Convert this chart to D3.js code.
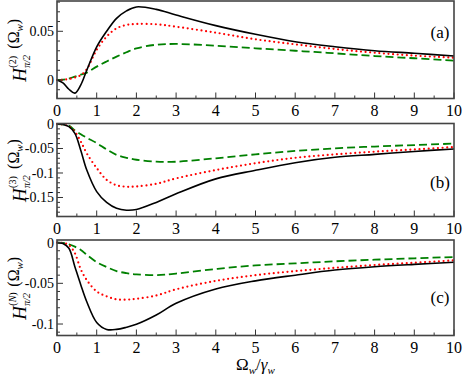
<!DOCTYPE html>
<html>
<head>
<meta charset="utf-8">
<script src="https://cdn.jsdelivr.net/npm/d3@7"></script>
<style>
  body { margin: 0; background: white; }
  svg { display: block; }
</style>
</head>
<body>
<div id="chart"></div>
<script>
// shared x grid (Omega_w / gamma_w)
const xValues = [0, 0.15, 0.3, 0.45, 0.6, 0.75, 1, 1.25, 1.5, 1.75, 2, 2.5, 3, 4, 5, 6, 7, 8, 9, 10];

// panel (a)  H^(2)
const aBlack = [0, -0.003, -0.0095, -0.0135, -0.005, 0.010, 0.034, 0.050, 0.0633, 0.071, 0.075, 0.0725, 0.0667, 0.0558, 0.0469, 0.0393, 0.0342, 0.0301, 0.0274, 0.0246];
const aRed   = [0, 0.0002, 0.001, 0.0025, 0.005, 0.011, 0.031, 0.0445, 0.053, 0.0565, 0.0575, 0.0572, 0.0547, 0.0486, 0.0418, 0.0366, 0.0318, 0.028, 0.025, 0.0229];
const aGreen = [0, 0.0003, 0.0015, 0.0035, 0.0055, 0.0075, 0.0137, 0.019, 0.024, 0.0285, 0.0325, 0.0362, 0.037, 0.0352, 0.0325, 0.030, 0.0274, 0.0246, 0.0223, 0.0198];

// panel (b)  H^(3)
const bBlack = [0, -0.001, -0.0055, -0.019, -0.054, -0.094, -0.138, -0.160, -0.172, -0.176, -0.1745, -0.160, -0.1425, -0.112, -0.0945, -0.079, -0.068, -0.062, -0.056, -0.051];
const bRed   = [0, -0.001, -0.005, -0.016, -0.036, -0.060, -0.090, -0.114, -0.125, -0.128, -0.1275, -0.122, -0.111, -0.094, -0.080, -0.069, -0.062, -0.0565, -0.052, -0.047];
const bGreen = [0, -0.0005, -0.003, -0.013, -0.021, -0.028, -0.039, -0.052, -0.063, -0.069, -0.073, -0.077, -0.077, -0.070, -0.062, -0.055, -0.0497, -0.046, -0.043, -0.040];

// panel (c)  H^(N)
const cBlack = [0, -0.001, -0.007, -0.0296, -0.052, -0.0726, -0.098, -0.1066, -0.1066, -0.104, -0.1004, -0.089, -0.0746, -0.057, -0.047, -0.040, -0.0337, -0.0296, -0.0267, -0.0242];
const cRed   = [0, -0.0005, -0.003, -0.013, -0.033, -0.046, -0.060, -0.066, -0.0697, -0.070, -0.069, -0.065, -0.0574, -0.047, -0.040, -0.035, -0.031, -0.0275, -0.0247, -0.0218];
const cGreen = [0, -0.0003, -0.002, -0.005, -0.009, -0.015, -0.024, -0.030, -0.035, -0.0375, -0.039, -0.040, -0.038, -0.0324, -0.028, -0.0255, -0.023, -0.021, -0.0193, -0.0177];

// tick labels
const xTicks = [0, 1, 2, 3, 4, 5, 6, 7, 8, 9, 10];
const aYTicks = [0, 0.05];
const bYTicks = [0, -0.05, -0.1, -0.15];
const cYTicks = [0, -0.05, -0.1];
const panelNames = ["(a)", "(b)", "(c)"];
const panelSup = ["2", "3", "N"];

const W = 463, H = 382;
const left = 57, right = 454;
const serif = "Liberation Serif, Times New Roman, serif";

const svg = d3.select("#chart")
  .append("svg")
  .attr("width", W)
  .attr("height", H)
  .attr("font-family", serif);

const xScale = d3.scaleLinear().domain([0, 10]).range([left, right]);

const panels = [
  { top: 1, bottom: 98.5, domain: [-0.019, 0.0811], ticks: aYTicks, series: [aBlack, aRed, aGreen], labelY: 38 },
  { top: 123.5, bottom: 216.5, domain: [-0.1888, 0.001], ticks: bYTicks, series: [bBlack, bRed, bGreen], labelY: 188 },
  { top: 240, bottom: 335.5, domain: [-0.1141, 0.0032], ticks: cYTicks, series: [cBlack, cRed, cGreen], labelY: 303 }
];

const styles = [
  { color: "#000000", width: 1.6, dash: null, cap: "butt" },
  { color: "#ff0000", width: 2.2, dash: "0,4.6", cap: "round" },
  { color: "#008000", width: 1.8, dash: "8,4", cap: "butt" }
];

const fmt = d => d === 0 ? "0" : String(d);

panels.forEach((p, i) => {
  const yScale = d3.scaleLinear().domain(p.domain).range([p.bottom, p.top]);
  const g = svg.append("g");

  // curves
  const line = d3.line()
    .x((d, k) => xScale(xValues[k]))
    .y(d => yScale(d))
    .curve(d3.curveCatmullRom.alpha(0.5));

  // draw green, red, black (black on top)
  [2, 1, 0].forEach(s => {
    g.append("path")
      .datum(p.series[s])
      .attr("fill", "none")
      .attr("stroke", styles[s].color)
      .attr("stroke-width", styles[s].width)
      .attr("stroke-dasharray", styles[s].dash)
      .attr("stroke-linecap", styles[s].cap)
      .attr("d", line);
  });

  // x ticks (inward), major every 1, minor every 0.5
  const xMinor = d3.range(0.5, 10, 1);
  g.selectAll(".xmajor")
    .data(xTicks)
    .enter().append("line")
    .attr("x1", d => xScale(d)).attr("x2", d => xScale(d))
    .attr("y1", p.bottom).attr("y2", p.bottom - 6)
    .attr("stroke", "#333").attr("stroke-width", 1);
  g.selectAll(".xminor")
    .data(xMinor)
    .enter().append("line")
    .attr("x1", d => xScale(d)).attr("x2", d => xScale(d))
    .attr("y1", p.bottom).attr("y2", p.bottom - 3)
    .attr("stroke", "#333").attr("stroke-width", 1);

  // y ticks (inward), major from labels, minor every 0.01
  const yMinor = d3.range(Math.ceil(p.domain[0] * 100), Math.floor(p.domain[1] * 100) + 1)
    .map(v => v / 100)
    .filter(v => Math.abs(v * 20 - Math.round(v * 20)) > 1e-6);
  g.selectAll(".ymajor")
    .data(p.ticks)
    .enter().append("line")
    .attr("x1", left).attr("x2", left + 6)
    .attr("y1", d => yScale(d)).attr("y2", d => yScale(d))
    .attr("stroke", "#333").attr("stroke-width", 1);
  g.selectAll(".yminor")
    .data(yMinor)
    .enter().append("line")
    .attr("x1", left).attr("x2", left + 3)
    .attr("y1", d => yScale(d)).attr("y2", d => yScale(d))
    .attr("stroke", "#333").attr("stroke-width", 1);

  // frame
  g.append("rect")
    .attr("x", left).attr("y", p.top)
    .attr("width", right - left).attr("height", p.bottom - p.top)
    .attr("fill", "none")
    .attr("stroke", "#444")
    .attr("stroke-width", 1.6);

  // x tick labels
  g.selectAll(".xlab")
    .data(xTicks)
    .enter().append("text")
    .attr("x", d => xScale(d))
    .attr("y", p.bottom + 17)
    .attr("text-anchor", "middle")
    .attr("font-size", "16px")
    .text(d => d);

  // y tick labels
  g.selectAll(".ylab")
    .data(p.ticks)
    .enter().append("text")
    .attr("x", left - 3)
    .attr("y", d => yScale(d))
    .attr("dy", "0.35em")
    .attr("text-anchor", "end")
    .attr("font-size", "14px")
    .text(fmt);

  // panel label
  g.append("text")
    .attr("x", 440)
    .attr("y", p.labelY)
    .attr("text-anchor", "middle")
    .attr("font-size", "17px")
    .text(panelNames[i]);

  // y axis title: H^(k)_{pi/2} (Omega_w), rotated
  const cy = (p.top + p.bottom) / 2 + 1;
  const t = g.append("g")
    .attr("transform", `translate(26,${cy}) rotate(-90)`);
  const inner = t.append("g");
  inner.append("text")
    .attr("x", 0).attr("y", 0)
    .attr("font-style", "italic")
    .attr("font-size", "19px")
    .text("H");
  const sup = inner.append("text")
    .attr("x", 14).attr("y", -10)
    .attr("font-size", "10px")
    .text("(");
  sup.append("tspan").attr("font-style", panelSup[i] === "N" ? "italic" : "normal").text(panelSup[i]);
  sup.append("tspan").text(")");
  inner.append("text")
    .attr("x", 14).attr("y", 4)
    .attr("font-style", "italic")
    .attr("font-size", "10px")
    .text("π/2");
  const om = inner.append("text")
    .attr("x", 33).attr("y", -7)
    .attr("font-size", "16px")
    .text("(Ω");
  om.append("tspan").attr("font-style", "italic").attr("font-size", "11px").attr("dy", 4).text("w");
  om.append("tspan").attr("dy", -4).text(")");
  const bb = inner.node().getBBox();
  inner.attr("transform", `translate(${-bb.x - bb.width / 2},0)`);
});

// x axis title
const xt = svg.append("text")
  .attr("x", xScale(5))
  .attr("y", 370)
  .attr("text-anchor", "middle")
  .attr("font-size", "17px");
xt.append("tspan").text("Ω");
xt.append("tspan").attr("font-style", "italic").attr("font-size", "11px").attr("dy", 4).text("w");
xt.append("tspan").attr("dy", -4).text("/");
xt.append("tspan").attr("font-style", "italic").text("γ");
xt.append("tspan").attr("font-style", "italic").attr("font-size", "11px").attr("dy", 4).text("w");
</script>
</body>
</html>
